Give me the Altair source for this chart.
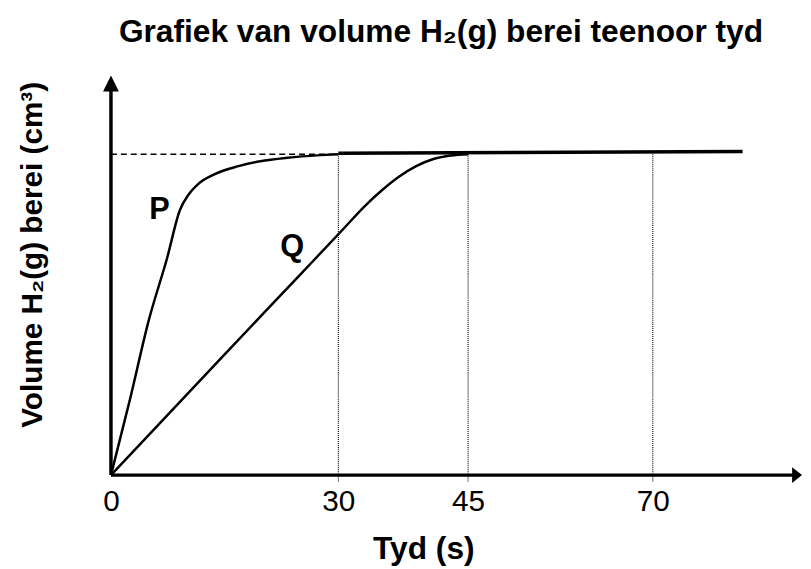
import altair as alt
import pandas as pd

# ---- data ----
p_time = [0, 2.5, 5.0, 7.4, 9.1, 10.2, 11.5, 13.7, 16.7, 19.7, 23.3, 27.6, 30]
p_vol = [0, 23.5, 48.3, 67.5, 82.5, 87.2, 90.6, 93.7, 96.1, 97.7, 98.8, 99.6, 99.9]

q_time = [0, 15, 25, 30.57, 33.0, 35.0, 37.0, 39.0, 41.0, 43.0, 45]
q_vol = [0, 37.6, 62.5, 76.6, 83.6, 88.6, 92.9, 96.2, 98.4, 99.5, 99.9]

plateau_time = [30, 82.15]
plateau_vol = [100.2, 100.75]

dashed_time = [0, 30]
dashed_vol = [99.9, 99.9]

guide_time = [30, 45, 70]
guide_top = [100.2, 100.4, 100.6]
guide_bottom = [-2, -2, -2]

tick_values = [0, 30, 45, 70]

label_text = ["P", "Q"]
label_time = [6.4, 23.9]
label_vol = [79.7, 68.3]

# hand-drawn time axis: tick spacing is not uniform in the reference
X_DOMAIN = [0, 30, 45, 70, 90.19]
X_RANGE = [0, 229.7, 360.7, 547.3, 698]
Y_DOMAIN = [0, 124.5]

FONT = "Liberation Sans"

xscale = alt.Scale(domain=X_DOMAIN, range=X_RANGE, nice=False, zero=False)
yscale = alt.Scale(domain=Y_DOMAIN, nice=False, zero=False)

xaxis = alt.Axis(values=tick_values, domain=False, ticks=False, tickSize=0, grid=False,
                 labelFontSize=30, labelFont=FONT, labelColor="black", labelPadding=12,
                 labelFlush=False, labelOverlap=False,
                 title="Tyd (s)", titleFont=FONT, titleFontSize=32, titleFontWeight="bold",
                 titleColor="black", titleX=315.5, titleY=84, titleBaseline="alphabetic")
yaxis = alt.Axis(domain=False, ticks=False, tickSize=0, labels=False, grid=False,
                 title="Volume H₂(g) berei (cm³)", titleFont=FONT, titleFontSize=30,
                 titleFontWeight="bold", titleColor="black", titleAngle=270,
                 titleX=-70, titleY=181, titleBaseline="alphabetic")


def X(field="t"):
    return alt.X(f"{field}:Q", scale=xscale, axis=xaxis)


def Y(field="v"):
    return alt.Y(f"{field}:Q", scale=yscale, axis=yaxis)


curves = pd.DataFrame({
    "t": p_time + q_time,
    "v": p_vol + q_vol,
    "series": ["P"] * len(p_time) + ["Q"] * len(q_time),
})
plateau = pd.DataFrame({"t": plateau_time, "v": plateau_vol})
dashed = pd.DataFrame({"t": dashed_time, "v": dashed_vol})
guides = pd.DataFrame({"t": guide_time, "v": guide_bottom, "v2": guide_top})
labels = pd.DataFrame({"t": label_time, "v": label_vol, "txt": label_text})
axes_lines = pd.DataFrame({"t": [0, 0], "v": [0, 0], "t2": [0, 89.1], "v2": [121.0, 0]})
arrow_up = pd.DataFrame({"t": [0], "v": [121.9]})
arrow_right = pd.DataFrame({"t": [89.52], "v": [0]})

guide_layer = alt.Chart(guides).mark_rule(color="black", strokeWidth=1.1, strokeDash=[1, 1]).encode(
    x=X(), y=Y(), y2="v2")

dashed_layer = alt.Chart(dashed).mark_line(color="black", strokeWidth=1.5, strokeDash=[6, 4]).encode(
    x=X(), y=Y())

plateau_layer = alt.Chart(plateau).mark_line(color="black", strokeWidth=3.5, strokeCap="butt").encode(
    x=X(), y=Y())

curve_layer = alt.Chart(curves).mark_line(color="black", strokeWidth=2.5, interpolate="monotone").encode(
    x=X(), y=Y(), detail="series:N")

label_layer = alt.Chart(labels).mark_text(font=FONT, fontSize=31, fontWeight="bold", color="black",
                                          align="center", baseline="alphabetic").encode(
    x=X(), y=Y(), text="txt:N")

axes_layer = alt.Chart(axes_lines).mark_rule(color="black", strokeWidth=3.5).encode(
    x=X(), y=Y(), x2="t2", y2="v2")

arrow_up_layer = alt.Chart(arrow_up).mark_point(shape="M0,-1L1,1L-1,1Z", size=256, filled=True,
                                                color="black", opacity=1, strokeWidth=0).encode(
    x=X(), y=Y())

arrow_right_layer = alt.Chart(arrow_right).mark_point(shape="M1,0L-1,-1.6L-1,1.6Z", size=100, filled=True,
                                                      color="black", opacity=1, strokeWidth=0).encode(
    x=X(), y=Y())

chart = alt.layer(
    guide_layer, dashed_layer, plateau_layer, curve_layer, label_layer,
    axes_layer, arrow_up_layer, arrow_right_layer
).properties(
    width=698,
    height=404,
    title=alt.TitleParams(
        text="Grafiek van volume H₂(g) berei teenoor tyd",
        anchor="start", frame="group", dx=8, offset=26,
        font=FONT, fontSize=32, fontWeight="bold", color="black",
    ),
    autosize=alt.AutoSizeParams(type="none"),
    padding={"left": 104, "top": 65, "right": 1, "bottom": 90},
    background="white",
).configure_view(stroke=None)

chart.save("out.html", embed_options={"renderer": "svg", "actions": False})
